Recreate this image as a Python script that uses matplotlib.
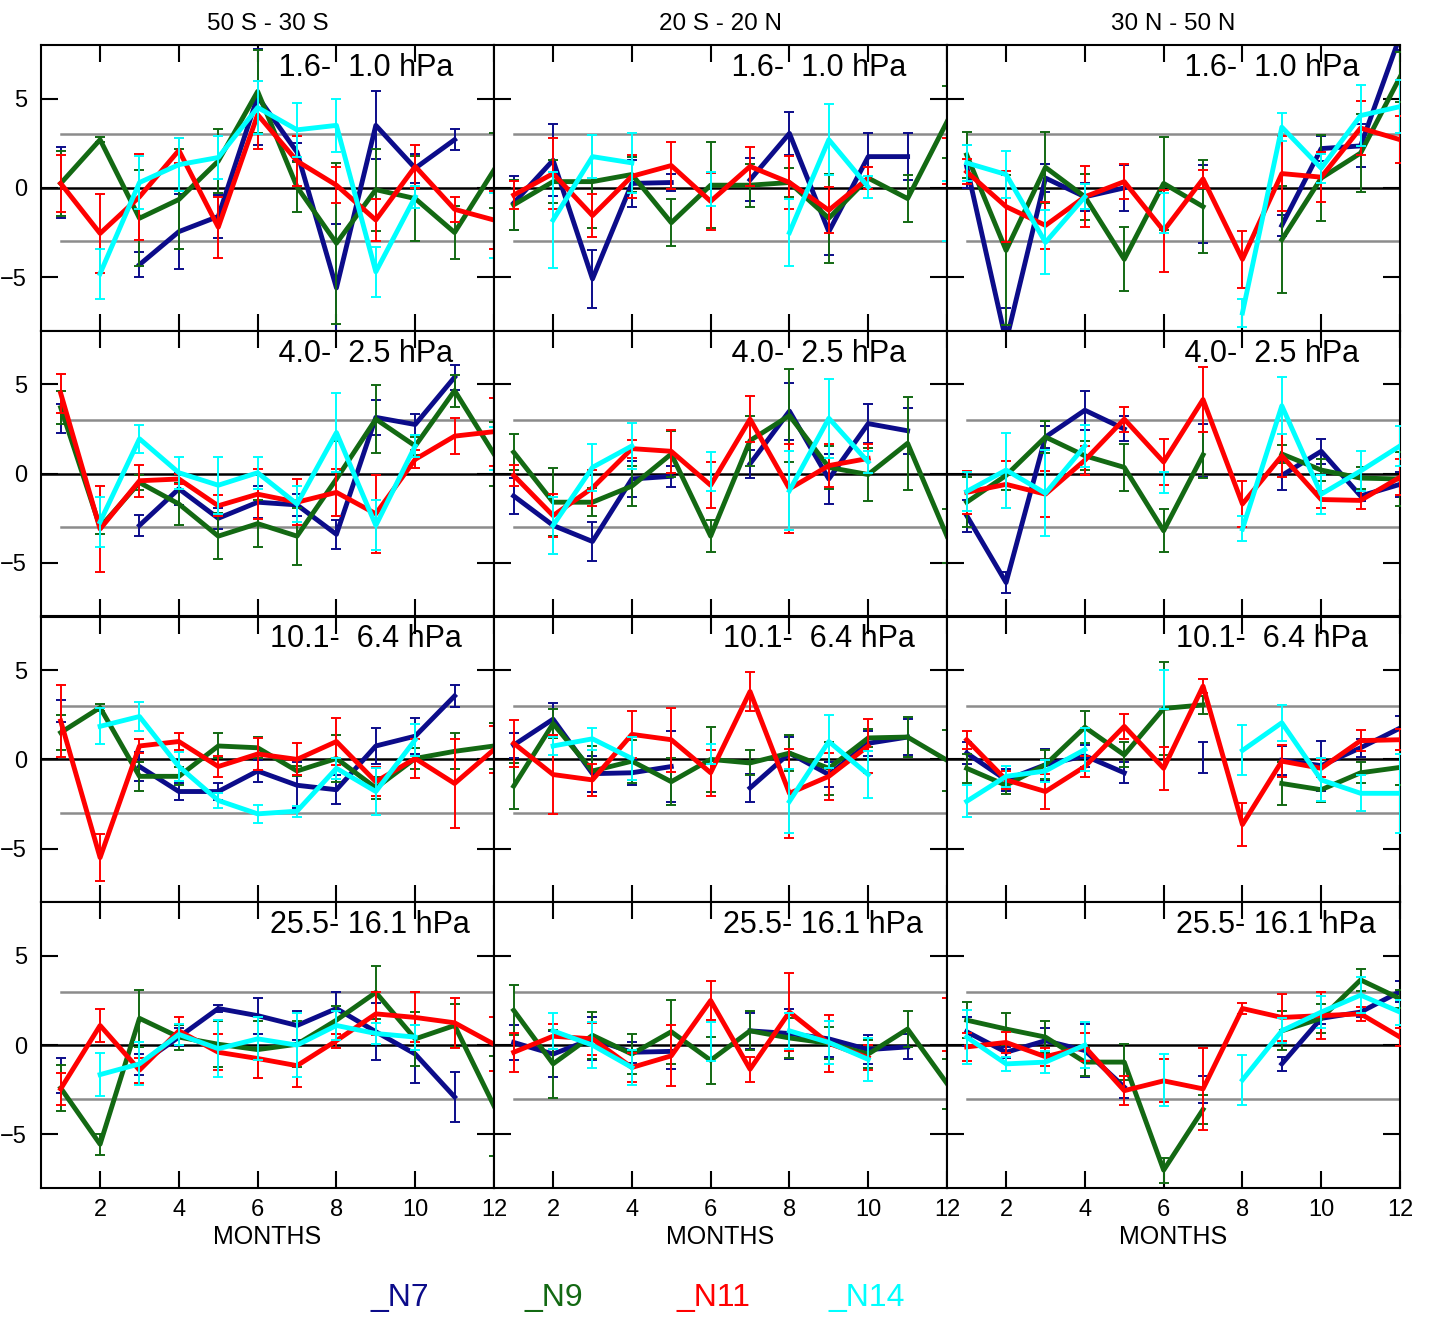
import numpy as np
import matplotlib
matplotlib.use("Agg")
import matplotlib.pyplot as plt

nan = np.nan

months = np.arange(1, 13)
regions = ["50 S - 30 S", "20 S - 20 N", "30 N - 50 N"]
levels = [" 1.6-  1.0 hPa", " 4.0-  2.5 hPa", "10.1-  6.4 hPa", "25.5- 16.1 hPa"]
names = ["_N7", "_N9", "_N11", "_N14"]
colors = ["#0c0c8a", "#136913", "#ff0000", "#00ffff"]

# ---- row 1: 1.6-1.0 hPa ----
# 50S-30S
p00_n7 = [0.3, nan, -4.3, -2.45, -1.6, 5.1, 2.0, -5.6, 3.5, 1.1, 2.7, nan]
p00_n7e = [2.0, 0, 0.7, 2.1, 1.2, 2.7, 0.5, 3.6, 1.9, 0.8, 0.6, 0]
p00_n9 = [0.25, 2.7, -1.7, -0.65, 1.5, 5.4, 0.05, -3.1, -0.1, -0.6, -2.5, 1.0]
p00_n9e = [1.8, 0.15, 2.7, 2.8, 1.8, 2.3, 1.4, 4.5, 2.3, 2.4, 1.5, 2.1]
p00_n11 = [0.25, -2.55, -0.5, 2.1, -2.2, 4.1, 1.5, 0.15, -1.8, 1.2, -1.2, -1.8]
p00_n11e = [1.6, 2.2, 2.4, 0.7, 1.7, 1.9, 1.4, 1.0, 1.2, 1.2, 0.7, 1.6]
p00_n14 = [nan, -4.8, 0.3, 1.3, 1.7, 4.5, 3.25, 3.5, -4.7, -0.5, nan, -2.1]
p00_n14e = [0, 1.4, 1.5, 1.5, 1.2, 1.5, 1.5, 1.5, 1.4, 0.6, 0, 1.8]
# 20S-20N
p01_n7 = [-0.85, 1.55, -5.1, 0.25, 0.3, nan, 0.45, 3.05, -2.45, 1.75, 1.75, nan]
p01_n7e = [1.5, 2.0, 1.6, 1.3, 0.5, 0, 1.2, 1.2, 1.3, 1.3, 1.3, 0]
p01_n9 = [-0.95, 0.35, 0.35, 0.75, -1.95, 0.15, 0.15, 0.3, -1.7, 0.55, -0.6, 3.7]
p01_n9e = [1.4, 1.2, 2.6, 1.0, 1.3, 2.4, 1.2, 0.8, 2.5, 0.6, 1.3, 2.0]
p01_n11 = [-0.4, 0.8, -1.55, 0.65, 1.25, -0.75, 1.2, 0.3, -1.25, 0.55, nan, 1.5]
p01_n11e = [0.8, 2.0, 1.2, 1.2, 1.3, 1.6, 1.1, 1.5, 1.3, 0.6, 0, 1.3]
p01_n14 = [nan, -1.8, 1.75, 1.4, nan, -0.05, nan, -2.5, 2.7, 0.05, nan, -1.3]
p01_n14e = [0, 2.7, 1.2, 1.7, 0, 0.95, 0, 1.9, 2.0, 0.6, 0, 1.7]
# 30N-50N
p02_n7 = [1.2, -8.6, 0.55, -0.5, 0.0, nan, -0.9, nan, -2.1, 2.2, 2.35, 8.5]
p02_n7e = [1.2, 1.9, 0.8, 0.8, 1.3, 0, 2.2, 0, 0.6, 0.7, 1.2, 0.8]
p02_n9 = [1.85, -3.5, 1.15, -0.5, -4.0, 0.25, -1.05, nan, -2.9, 0.55, 1.95, 6.2]
p02_n9e = [1.3, 4.2, 2.0, 1.3, 1.8, 2.6, 2.6, 0, 3.0, 2.4, 2.2, 1.4]
p02_n11 = [0.9, -1.05, -2.1, -0.5, 0.35, -2.4, 0.5, -4.0, 0.8, 0.6, 3.35, 2.7]
p02_n11e = [0.7, 2.0, 1.3, 1.7, 1.0, 2.3, 0.5, 1.6, 2.1, 1.4, 1.5, 1.3]
p02_n14 = [1.4, 0.75, -3.05, -0.5, nan, -1.4, nan, -7.0, 3.4, 1.1, 4.05, 4.55]
p02_n14e = [1.0, 1.3, 1.8, 0.7, 0, 1.1, 0, 0.8, 0.8, 0.8, 1.7, 1.5]

# ---- row 2: 4.0-2.5 hPa ----
p10_n7 = [3.1, nan, -2.9, -0.85, -2.5, -1.6, -1.75, -3.4, 3.15, 2.75, 5.4, nan]
p10_n7e = [0.8, 0, 0.6, 0.9, 0.6, 0.9, 0.6, 0.8, 1.0, 0.6, 0.7, 0]
p10_n9 = [3.7, -3.0, -0.5, -1.7, -3.5, -2.8, -3.5, -0.3, 3.05, 1.55, 4.65, 1.1]
p10_n9e = [0.9, 0.4, 0.4, 1.2, 1.3, 1.3, 1.6, 2.1, 1.9, 0.5, 0.9, 1.8]
p10_n11 = [4.5, -3.1, -0.4, -0.3, -1.8, -1.15, -1.6, -1.05, -2.25, 0.8, 2.1, 2.35]
p10_n11e = [1.1, 2.4, 0.9, 0.3, 0.6, 1.4, 1.3, 1.3, 2.2, 0.5, 1.0, 1.9]
p10_n14 = [nan, -2.7, 1.95, 0.05, -0.65, 0.05, -1.7, 2.3, -2.9, 1.55, nan, 1.4]
p10_n14e = [0, 1.4, 0.8, 0.9, 1.6, 0.9, 1.0, 2.2, 1.4, 0.6, 0, 1.2]

p11_n7 = [-1.25, -2.9, -3.8, -0.3, -0.15, nan, 0.55, 3.5, -0.3, 2.8, 2.4, nan]
p11_n7e = [1.0, 1.6, 1.1, 1.0, 0.6, 0, 0.8, 1.6, 1.4, 1.1, 1.3, 0]
p11_n9 = [1.2, -1.6, -1.6, -0.7, 1.1, -3.5, 1.85, 3.25, 0.35, -0.05, 1.7, -3.5]
p11_n9e = [1.0, 1.9, 0.8, 1.1, 1.3, 0.9, 1.4, 2.6, 1.2, 1.5, 2.6, 1.5]
p11_n11 = [-0.1, -2.35, -0.8, 1.4, 1.25, -0.65, 3.05, -0.85, 0.45, 0.85, nan, nan]
p11_n11e = [0.6, 1.2, 1.0, 0.5, 1.2, 1.3, 1.3, 2.5, 1.2, 0.8, 0, 0]
p11_n14 = [nan, -2.9, 0.35, 1.55, nan, 0.1, nan, -0.95, 3.1, 0.65, nan, nan]
p11_n14e = [0, 1.6, 1.3, 1.3, 0, 1.1, 0, 2.2, 2.2, 0.6, 0, 0]

p12_n7 = [-2.35, -6.1, 2.05, 3.55, 2.5, nan, 1.3, nan, -0.1, 1.25, -1.25, -0.6]
p12_n7e = [0.9, 0.6, 0.6, 1.1, 0.7, 0, 1.5, 0, 0.8, 0.7, 0.3, 0.7]
p12_n9 = [-1.6, -0.1, 2.05, 1.0, 0.35, -3.2, 1.05, nan, 1.1, 0.2, -0.25, -0.3]
p12_n9e = [1.4, 0.8, 0.9, 0.8, 1.3, 1.2, 1.3, 0, 0.5, 0.6, 0.6, 1.5]
p12_n11 = [-1.05, -0.6, -1.15, 0.75, 3.05, 0.65, 4.15, -1.7, 1.0, -1.45, -1.5, -0.2]
p12_n11e = [1.2, 1.3, 1.3, 0.8, 0.7, 1.3, 1.8, 1.3, 1.2, 0.5, 0.5, 1.0]
p12_n14 = [-1.0, 0.2, -1.1, 1.55, nan, -0.5, nan, -3.1, 3.8, -1.15, 0.15, 1.55]
p12_n14e = [1.1, 2.1, 2.4, 1.2, 0, 0.6, 0, 0.7, 1.6, 1.1, 1.1, 1.1]

# ---- row 3: 10.1-6.4 hPa ----
p20_n7 = [2.7, nan, -0.4, -1.8, -1.8, -0.65, -1.45, -1.7, 0.75, 1.3, 3.55, nan]
p20_n7e = [0.6, 0, 0.8, 0.5, 0.5, 0.6, 1.3, 0.8, 1.0, 1.0, 0.6, 0]
p20_n9 = [1.5, 2.9, -0.95, -0.95, 0.75, 0.65, -0.65, 0.05, -1.6, 0.05, 0.45, 0.75]
p20_n9e = [1.0, 0.2, 0.8, 0.5, 0.7, 0.6, 0.3, 1.3, 0.6, 0.6, 1.0, 1.3]
p20_n11 = [2.15, -5.5, 0.75, 1.0, -0.4, 0.3, 0.0, 1.0, -1.25, 0.05, -1.35, 0.55]
p20_n11e = [2.0, 1.3, 0.4, 0.5, 0.6, 0.9, 0.9, 1.3, 0.8, 1.1, 2.5, 1.3]
p20_n14 = [nan, 1.85, 2.4, -0.4, -2.3, -3.05, -2.9, -0.5, -1.8, 1.1, nan, nan]
p20_n14e = [0, 1.0, 0.8, 0.8, 0.4, 0.5, 0.3, 0.6, 1.3, 0.9, 0, 0]

p21_n7 = [0.8, 2.25, -0.8, -0.75, -0.4, nan, -1.6, 0.35, -0.85, 0.9, 1.25, nan]
p21_n7e = [0.7, 0.9, 1.0, 0.7, 2.0, 0, 0.8, 0.9, 0.7, 0.7, 1.0, 0]
p21_n9 = [-1.5, 2.0, -0.65, -0.1, -1.25, 0.0, -0.2, 0.35, -0.5, 1.2, 1.25, -0.05]
p21_n9e = [1.3, 0.8, 1.4, 1.2, 1.3, 1.8, 0.7, 1.0, 1.5, 0.5, 1.1, 1.7]
p21_n11 = [0.9, -0.85, -1.15, 1.4, 1.1, -0.75, 3.8, -1.9, -0.95, 0.75, nan, nan]
p21_n11e = [1.3, 2.2, 0.9, 1.3, 1.8, 1.3, 1.1, 2.5, 1.3, 1.5, 0, 0]
p21_n14 = [nan, 0.75, 1.15, 0.05, nan, 0.3, nan, -2.35, 1.0, -0.85, nan, nan]
p21_n14e = [0, 0.5, 0.6, 1.2, 0, 0.55, 0, 1.8, 1.5, 1.3, 0, 0]

p22_n7 = [0.35, -1.15, -0.3, 0.2, -0.75, nan, 0.1, nan, -0.05, -0.35, 0.65, 1.75]
p22_n7e = [0.6, 0.6, 0.9, 0.6, 0.6, 0, 0.85, 0, 0.8, 1.4, 0.5, 0.7]
p22_n9 = [-0.5, -1.45, -0.3, 1.8, 0.25, 2.85, 3.05, nan, -1.35, -1.7, -0.75, -0.45]
p22_n9e = [0.8, 0.5, 0.8, 0.9, 0.7, 2.6, 0.5, 0, 1.2, 0.7, 0.6, 1.0]
p22_n11 = [1.1, -1.15, -1.8, -0.4, 1.85, -0.5, 4.1, -3.65, -0.1, -0.5, 1.05, 1.1]
p22_n11e = [0.5, 0.5, 1.0, 0.6, 0.7, 1.2, 0.4, 1.2, 0.9, 0.5, 0.6, 0.6]
p22_n14 = [-2.35, -0.95, -0.65, 0.55, nan, 3.9, nan, 0.5, 2.05, -1.15, -1.9, -1.9]
p22_n14e = [0.9, 0.6, 0.6, 1.2, 0, 1.1, 0, 1.4, 1.0, 1.2, 1.0, 2.2]

# ---- row 4: 25.5-16.1 hPa ----
p30_n7 = [-1.7, nan, -1.1, 0.45, 2.05, 1.65, 1.1, 2.05, 0.75, -0.5, -2.9, nan]
p30_n7e = [1.0, 0, 0.6, 0.5, 0.2, 1.0, 0.8, 0.9, 1.6, 1.6, 1.4, 0]
p30_n9 = [-2.4, -5.55, 1.5, 0.45, 0.05, -0.25, 0.05, 1.4, 2.95, 0.35, 1.1, -3.4]
p30_n9e = [1.3, 0.6, 1.6, 0.7, 1.3, 1.6, 1.3, 0.8, 1.5, 1.5, 1.2, 2.8]
p30_n11 = [-2.45, 1.1, -1.4, 0.8, -0.4, -0.75, -1.15, 0.25, 1.75, 1.55, 1.25, 0.05]
p30_n11e = [0.9, 0.9, 0.7, 0.8, 1.0, 1.1, 1.2, 0.4, 1.2, 1.4, 1.4, 1.5]
p30_n14 = [nan, -1.65, -1.05, 0.6, -0.2, 0.35, 0.0, 1.1, 0.65, 0.45, nan, nan]
p30_n14e = [0, 1.2, 1.2, 0.6, 1.6, 1.2, 1.8, 0.8, 0.6, 0.7, 0, 0]

p31_n7 = [0.15, -0.5, 0.35, -0.4, -0.35, nan, 0.8, 0.65, 0.35, -0.25, -0.1, nan]
p31_n7e = [1.0, 1.3, 1.2, 0.6, 1.0, 0, 1.0, 1.4, 1.0, 0.8, 0.7, 0]
p31_n9 = [1.95, -1.05, 0.55, -0.5, 0.75, -0.85, 0.8, 0.4, 0.1, -0.5, 0.9, -2.15]
p31_n9e = [1.4, 1.9, 1.3, 1.1, 1.8, 1.3, 1.1, 1.1, 0.9, 0.8, 1.0, 1.4]
p31_n11 = [-0.4, 0.5, 0.35, -1.25, -0.6, 2.5, -1.35, 1.85, 0.1, -0.7, nan, 1.15]
p31_n11e = [1.1, 0.7, 0.9, 0.8, 1.7, 1.1, 0.7, 2.2, 1.6, 0.7, 0, 1.5]
p31_n14 = [nan, 0.8, 0.0, -1.25, nan, 0.22, nan, 0.8, 0.15, -0.8, nan, nan]
p31_n14e = [0, 1.0, 1.3, 1.0, 0, 1.1, 0, 1.0, 1.2, 1.2, 0, 0]

p32_n7 = [0.75, -0.4, 0.25, -0.3, -2.35, nan, -2.5, nan, -1.05, 1.5, 1.85, 3.0]
p32_n7e = [0.8, 0.3, 0.7, 1.5, 0.6, 0, 0.75, 0, 0.4, 0.3, 0.3, 0.6]
p32_n9 = [1.4, 0.9, 0.45, -0.95, -0.95, -7.0, -3.6, nan, 0.8, 1.5, 3.65, 2.6]
p32_n9e = [1.0, 0.9, 0.9, 0.8, 1.0, 0.7, 0.8, 0, 1.1, 0.8, 0.6, 0.5]
p32_n11 = [-0.1, 0.15, -0.65, -0.1, -2.55, -2.0, -2.45, 2.05, 1.55, 1.65, 1.75, 0.45]
p32_n11e = [0.8, 0.6, 0.5, 0.8, 0.8, 1.2, 2.3, 0.3, 1.3, 1.3, 0.4, 0.5]
p32_n14 = [0.45, -1.05, -0.95, 0.0, nan, -1.95, nan, -1.95, 0.8, 1.85, 2.8, 1.85]
p32_n14e = [1.5, 0.4, 0.6, 1.3, 0, 1.45, 0, 1.4, 0.7, 0.9, 1.0, 0.7]

panels = [
    [[(p00_n7, p00_n7e), (p00_n9, p00_n9e), (p00_n11, p00_n11e), (p00_n14, p00_n14e)],
     [(p01_n7, p01_n7e), (p01_n9, p01_n9e), (p01_n11, p01_n11e), (p01_n14, p01_n14e)],
     [(p02_n7, p02_n7e), (p02_n9, p02_n9e), (p02_n11, p02_n11e), (p02_n14, p02_n14e)]],
    [[(p10_n7, p10_n7e), (p10_n9, p10_n9e), (p10_n11, p10_n11e), (p10_n14, p10_n14e)],
     [(p11_n7, p11_n7e), (p11_n9, p11_n9e), (p11_n11, p11_n11e), (p11_n14, p11_n14e)],
     [(p12_n7, p12_n7e), (p12_n9, p12_n9e), (p12_n11, p12_n11e), (p12_n14, p12_n14e)]],
    [[(p20_n7, p20_n7e), (p20_n9, p20_n9e), (p20_n11, p20_n11e), (p20_n14, p20_n14e)],
     [(p21_n7, p21_n7e), (p21_n9, p21_n9e), (p21_n11, p21_n11e), (p21_n14, p21_n14e)],
     [(p22_n7, p22_n7e), (p22_n9, p22_n9e), (p22_n11, p22_n11e), (p22_n14, p22_n14e)]],
    [[(p30_n7, p30_n7e), (p30_n9, p30_n9e), (p30_n11, p30_n11e), (p30_n14, p30_n14e)],
     [(p31_n7, p31_n7e), (p31_n9, p31_n9e), (p31_n11, p31_n11e), (p31_n14, p31_n14e)],
     [(p32_n7, p32_n7e), (p32_n9, p32_n9e), (p32_n11, p32_n11e), (p32_n14, p32_n14e)]],
]

plt.rcParams['font.family'] = ['Liberation Sans', 'DejaVu Sans']

W, H = 1430, 1321
fig, axes = plt.subplots(4, 3, figsize=(W / 100, H / 100), dpi=100)
fig.subplots_adjust(left=41 / W, right=1400 / W, top=1 - 45 / H, bottom=1 - 1188 / H,
                    wspace=0, hspace=0)

for r in range(4):
    for c in range(3):
        ax = axes[r, c]
        ax.axhline(0, color='black', lw=1.8, zorder=1)
        ax.plot([1, 12], [3, 3], color='#8c8c8c', lw=1.8, zorder=1)
        ax.plot([1, 12], [-3, -3], color='#8c8c8c', lw=1.8, zorder=1)
        for k, (vals, errs) in enumerate(panels[r][c]):
            ax.errorbar(months, np.array(vals, dtype=float), yerr=np.array(errs, dtype=float),
                        color=colors[k], lw=3.5, elinewidth=1.4, capsize=3.5, capthick=1.4,
                        zorder=2 + k)
        ax.set_xlim(0.5, 12)
        ax.set_ylim(-8, 8)
        ax.set_xticks([2, 4, 6, 8, 10, 12])
        ax.set_yticks([-5, 0, 5])
        ax.tick_params(direction='in', top=True, right=True, length=12, width=1.5,
                       labelsize=17)
        ax.tick_params(axis='x', pad=8)
        ax.tick_params(axis='y', pad=10)
        if r < 3:
            ax.tick_params(labelbottom=False)
        if c > 0:
            ax.tick_params(labelleft=False)
        for s in ax.spines.values():
            s.set_linewidth(1.5)
        ax.text(0.505, 0.92, levels[r], transform=ax.transAxes, ha='left', va='center',
                fontsize=22, zorder=10)

for c in range(3):
    xc = (41 + 453 * c + 226.5) / W
    fig.text(xc, 1 - 24 / H, regions[c], ha='center', va='center', fontsize=17.5)
    fig.text(xc, 1 - 1237 / H, "MONTHS", ha='center', va='center', fontsize=18)

legend_x = [370, 525, 677, 828]
for k in range(4):
    fig.text(legend_x[k] / W, 1 - 1298 / H, names[k], color=colors[k], ha='left',
             va='center', fontsize=23)

fig.savefig("out.png", dpi=100)
